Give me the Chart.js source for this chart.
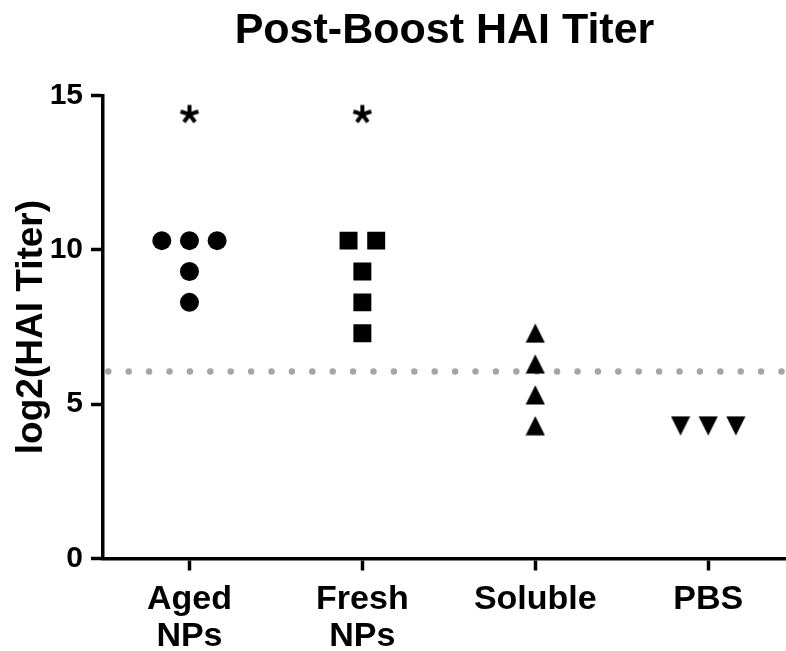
<!DOCTYPE html>
<html>
<head>
<meta charset="utf-8">
<script src="https://cdn.jsdelivr.net/npm/chart.js@4/dist/chart.umd.min.js"></script>
<style>
  html, body { margin: 0; padding: 0; background: #ffffff; overflow: hidden; }
  #wrap { width: 786px; height: 651px; position: relative; }
  canvas { display: block; }
</style>
</head>
<body>
<div id="wrap"><canvas id="c" width="786" height="651"></canvas></div>
<script>
// ---- data ----
const categories = [["Aged", "NPs"], ["Fresh", "NPs"], "Soluble", "PBS"];
const yTicks = [0, 5, 10, 15];
const agedX = [-0.16, 0, 0.16, 0, 0];
const agedY = [10.3, 10.3, 10.3, 9.3, 8.3];
const freshX = [0.92, 1.08, 1, 1, 1];
const freshY = [10.3, 10.3, 9.3, 8.3, 7.3];
const solubleX = [2, 2, 2, 2];
const solubleY = [7.3, 6.3, 5.3, 4.3];
const pbsX = [2.84, 3, 3.16];
const pbsY = [4.3, 4.3, 4.3];
const cutoffY = 6.06;
const sigX = [0, 1];
const sigY = [14.42, 14.42];

const FONT = "'Liberation Sans', Arial, Helvetica, sans-serif";

function pts(xs, ys) { return xs.map((x, i) => ({ x: x, y: ys[i] })); }

function triangleImage(up) {
  const c = document.createElement('canvas');
  c.width = 20; c.height = 20;
  const g = c.getContext('2d');
  g.fillStyle = '#000';
  g.beginPath();
  if (up) { g.moveTo(10, 0.3); g.lineTo(19.6, 19.6); g.lineTo(0.4, 19.6); }
  else { g.moveTo(0.4, 0.4); g.lineTo(19.6, 0.4); g.lineTo(10, 19.7); }
  g.closePath();
  g.fill();
  return c;
}
function asteriskImage() {
  const c = document.createElement('canvas');
  c.width = 24; c.height = 22;
  const g = c.getContext('2d');
  const L = 9.4;
  const cx = 12, cy = 11 - (L * 0.809 - L) / 2;
  g.strokeStyle = '#000';
  g.lineWidth = 4;
  g.lineCap = 'butt';
  for (let k = 0; k < 5; k++) {
    const a = k * 2 * Math.PI / 5;
    g.beginPath();
    g.moveTo(cx, cy);
    g.lineTo(cx + Math.sin(a) * L, cy - Math.cos(a) * L);
    g.stroke();
  }
  return c;
}

const cfg = {
  type: 'scatter',
  data: {
    datasets: [
      { label: 'cutoff', type: 'line', data: pts([-0.5, 3.45], [cutoffY, cutoffY]),
        borderColor: '#a5a5a5', borderWidth: 6.5, borderDash: [0, 20.4], borderDashOffset: 15.1,
        borderCapStyle: 'round', pointRadius: 0, fill: false, order: 5 },
      { label: 'Aged NPs', data: pts(agedX, agedY), pointStyle: 'circle', pointRadius: 9.5,
        backgroundColor: '#000', borderColor: '#000', borderWidth: 0 },
      { label: 'Fresh NPs', data: pts(freshX, freshY), pointStyle: 'rect', pointRadius: 12.7,
        backgroundColor: '#000', borderColor: '#000', borderWidth: 0 },
      { label: 'Soluble', data: pts(solubleX, solubleY), pointStyle: triangleImage(true), pointRadius: 10,
        backgroundColor: '#000', borderColor: '#000', borderWidth: 0 },
      { label: 'PBS', data: pts(pbsX, pbsY), pointStyle: triangleImage(false), pointRadius: 10,
        backgroundColor: '#000', borderColor: '#000', borderWidth: 0 },
      { label: 'sig', data: pts(sigX, sigY), pointStyle: asteriskImage(), pointRadius: 10,
        backgroundColor: '#000', borderColor: '#000', borderWidth: 0 }
    ]
  },
  options: {
    responsive: false,
    animation: false,
    events: [],
    layout: { autoPadding: false, padding: { left: 0, right: 0, top: 0, bottom: 0 } },
    plugins: {
      legend: { display: false },
      tooltip: { enabled: false },
      title: {
        display: true,
        fullSize: false,
        text: 'Post-Boost HAI Titer',
        color: '#000',
        font: { family: FONT, size: 43, weight: 'bold', lineHeight: 1.2 },
        padding: { top: 5, bottom: 39 }
      }
    },
    scales: {
      x: {
        type: 'linear',
        min: -0.5, max: 3.45,
        afterFit: (s) => { s.height = 92.5; s.paddingLeft = 0; s.paddingRight = 0; },
        afterBuildTicks: (s) => { s.ticks = categories.map((c, i) => ({ value: i })); },
        grid: { display: true, drawOnChartArea: false, drawTicks: true, tickLength: 12, tickWidth: 3.5, tickColor: '#000' },
        border: { display: true, color: '#000', width: 3.5 },
        ticks: {
          color: '#000', padding: 10, maxRotation: 0, autoSkip: false,
          font: { family: FONT, size: 34, weight: 'bold', lineHeight: 1.1 },
          callback: (v) => categories[Math.round(v)]
        }
      },
      y: {
        type: 'linear',
        min: 0, max: 15,
        afterFit: (s) => { s.width = 103; },
        afterBuildTicks: (s) => { s.ticks = yTicks.map(v => ({ value: v })); },
        grid: { display: true, drawOnChartArea: false, drawTicks: true, tickLength: 12, tickWidth: 3.5, tickColor: '#000' },
        border: { display: true, color: '#000', width: 3.5 },
        ticks: { color: '#000', padding: 8, font: { family: FONT, size: 30, weight: 'bold' } },
        title: {
          display: true, text: 'log2(HAI Titer)', color: '#000',
          font: { family: FONT, size: 37, weight: 'bold', lineHeight: 1.2 },
          padding: { top: 10, bottom: 0 }
        }
      }
    }
  }
};
new Chart(document.getElementById('c'), cfg);
</script>
</body>
</html>
